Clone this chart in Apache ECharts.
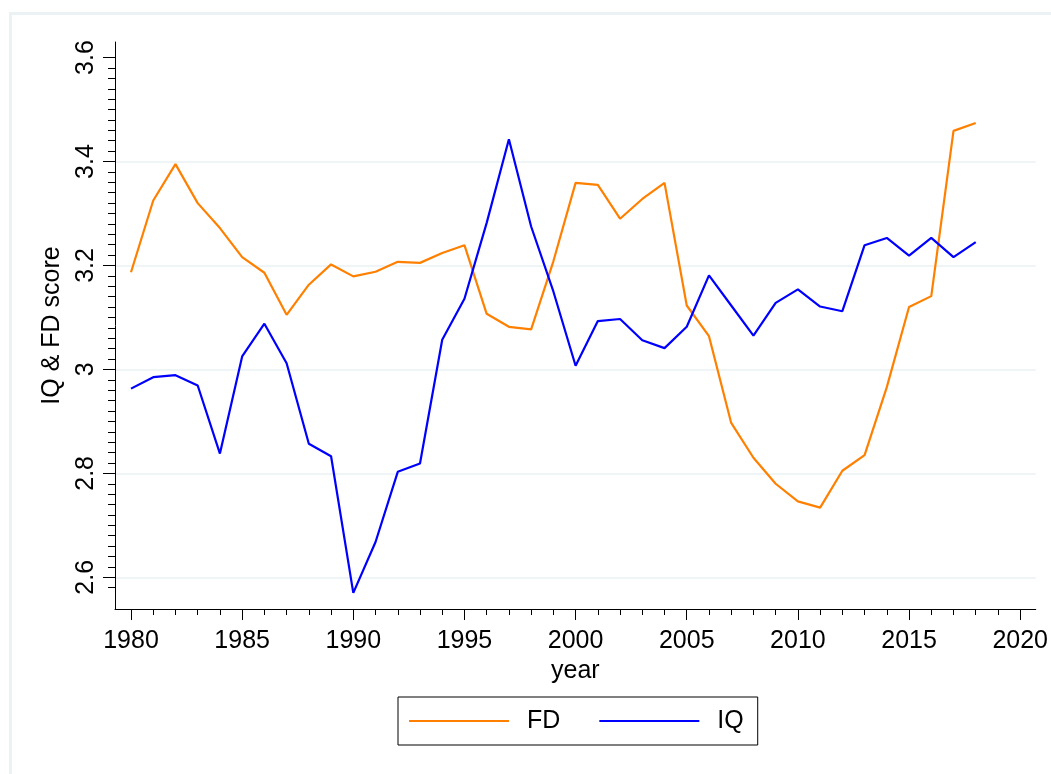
<!DOCTYPE html>
<html>
<head>
<meta charset="utf-8">
<title>IQ & FD score</title>
<script src="https://cdn.jsdelivr.net/npm/echarts@6/dist/echarts.min.js"></script>
<style>
  html, body { margin: 0; padding: 0; background: #fff; }
  #chart { width: 1051px; height: 774px; }
</style>
</head>
<body>
<div id="chart"></div>
<script>
const years = [1980, 1981, 1982, 1983, 1984, 1985, 1986, 1987, 1988, 1989,
  1990, 1991, 1992, 1993, 1994, 1995, 1996, 1997, 1998, 1999,
  2000, 2001, 2002, 2003, 2004, 2005, 2006, 2007, 2008, 2009,
  2010, 2011, 2012, 2013, 2014, 2015, 2016, 2017, 2018]

const fd = [3.187, 3.325, 3.395, 3.320, 3.272, 3.216, 3.186, 3.105, 3.163, 3.202,
  3.179, 3.188, 3.207, 3.205, 3.224, 3.239, 3.107, 3.082, 3.077, 3.208,
  3.359, 3.355, 3.290, 3.328, 3.359, 3.123, 3.064, 2.897, 2.830, 2.780,
  2.746, 2.734, 2.805, 2.835, 2.966, 3.120, 3.141, 3.459, 3.474]

const iq = [2.963, 2.985, 2.989, 2.969, 2.838, 3.025, 3.088, 3.012, 2.857, 2.833,
  2.570, 2.668, 2.803, 2.819, 3.057, 3.136, 3.282, 3.443, 3.275, 3.150,
  3.007, 3.093, 3.097, 3.056, 3.041, 3.082, 3.181, 3.123, 3.065, 3.128,
  3.154, 3.121, 3.112, 3.239, 3.253, 3.219, 3.253, 3.216, 3.245]

// tick labels
const yTicks = [2.6, 2.8, 3.0, 3.2, 3.4, 3.6]
const yGrid = [2.6, 2.8, 3.0, 3.2, 3.4]
const xTicks = [1980, 1985, 1990, 1995, 2000, 2005, 2010, 2015, 2020]

// minor ticks every 0.02 on y, every year on x
const yMinor = []
for (let i = 129; i <= 179; i++) {
  if (i % 10 !== 0) yMinor.push(+(i * 0.02).toFixed(2))
}
const xMinor = []
for (let y = 1981; y <= 2019; y++) {
  if (y % 5 !== 0) xMinor.push(y)
}

const font = '"Liberation Sans", Arial, sans-serif'
const yMin = 2.539
const yMax = 3.630
const xMin = 1979.28
const xMax = 2020.70

const chart = echarts.init(document.getElementById('chart'), null, { renderer: 'canvas' })

const hiddenY = {
  type: 'value',
  min: yMin,
  max: yMax,
  position: 'left',
  axisLine: { show: false },
  axisLabel: { show: false },
  splitLine: { show: false },
  axisTick: { show: false }
}

chart.setOption({
  animation: false,
  backgroundColor: '#fff',
  textStyle: { fontFamily: font },
  graphic: [{
    type: 'rect',
    shape: { x: 10.5, y: 13.5, width: 1100, height: 800 },
    style: { fill: 'none', stroke: '#eaf2f3', lineWidth: 3 },
    silent: true
  }],
  grid: {
    left: 115,
    right: 13,
    top: 42,
    bottom: 165
  },
  legend: {
    left: 398,
    top: 697,
    padding: [11, 14, 11, 11],
    borderColor: '#000',
    borderWidth: 1,
    itemWidth: 100,
    itemHeight: 2,
    itemGap: 39,
    icon: 'rect',
    textStyle: {
      fontFamily: font,
      fontSize: 25,
      color: '#000',
      lineHeight: 26,
      padding: [0, 0, 0, 13]
    },
    data: ['FD', 'IQ']
  },
  xAxis: [{
    type: 'value',
    min: xMin,
    max: xMax,
    name: 'year',
    nameLocation: 'middle',
    nameGap: 45,
    nameTextStyle: { fontFamily: font, fontSize: 25, color: '#000' },
    axisLine: { onZero: false, lineStyle: { color: '#000', width: 1 } },
    axisTick: { length: 11, customValues: xTicks, lineStyle: { color: '#000' } },
    axisLabel: {
      customValues: xTicks,
      margin: 20,
      fontSize: 25,
      color: '#000',
      fontFamily: font,
      formatter: v => String(Math.round(v))
    },
    splitLine: { show: false }
  }, {
    type: 'value',
    min: xMin,
    max: xMax,
    position: 'bottom',
    axisLine: { show: false },
    axisLabel: { show: false },
    splitLine: { show: false },
    axisTick: { length: 6, customValues: xMinor, lineStyle: { color: '#000' } }
  }],
  yAxis: [{
    type: 'value',
    min: yMin,
    max: yMax,
    name: 'IQ & FD score',
    nameLocation: 'middle',
    nameGap: 50,
    nameTextStyle: { fontFamily: font, fontSize: 25, color: '#000' },
    axisLine: { show: true, onZero: false, lineStyle: { color: '#000', width: 1 } },
    axisTick: { show: true, length: 12, customValues: yTicks, lineStyle: { color: '#000' } },
    axisLabel: {
      customValues: yTicks,
      rotate: 90,
      margin: 16,
      fontSize: 25,
      color: '#000',
      fontFamily: font,
      formatter: v => String(+v.toFixed(1))
    },
    splitLine: { show: false }
  },
  Object.assign({}, hiddenY, {
    splitLine: { show: true, lineStyle: { color: '#eaf2f3', width: 1.5 } },
    axisTick: { show: false, customValues: yGrid }
  }),
  Object.assign({}, hiddenY, {
    axisTick: { show: true, length: 7, customValues: yMinor, lineStyle: { color: '#000' } }
  })],
  series: [{
    name: 'FD',
    type: 'line',
    symbol: 'none',
    color: '#ff8000',
    lineStyle: { width: 2.2, color: '#ff8000' },
    data: years.map((y, i) => [y, fd[i]])
  }, {
    name: 'IQ',
    type: 'line',
    symbol: 'none',
    color: '#0000ff',
    lineStyle: { width: 2.2, color: '#0000ff' },
    data: years.map((y, i) => [y, iq[i]])
  }]
})
</script>
</body>
</html>
